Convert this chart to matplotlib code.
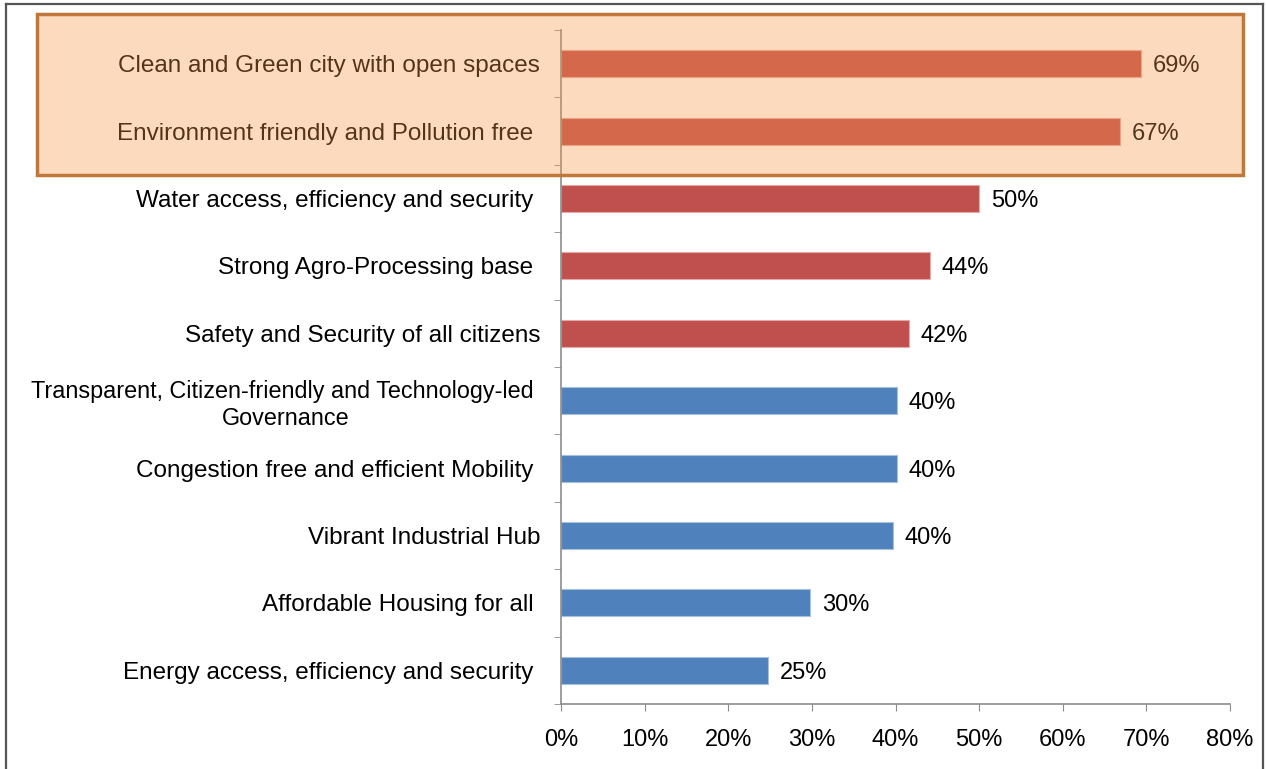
import matplotlib
matplotlib.use("Agg")
import matplotlib.pyplot as plt
from matplotlib.patches import Rectangle
from matplotlib.ticker import PercentFormatter
from matplotlib.lines import Line2D

plt.rcParams["font.family"] = ["Liberation Sans", "DejaVu Sans"]

# categories top -> bottom
labels = [
    "Clean and Green city with open spaces",
    "Environment friendly and Pollution free ",
    "Water access, efficiency and security ",
    "Strong Agro-Processing base ",
    "Safety and Security of all citizens",
    "Transparent, Citizen-friendly and Technology-led \nGovernance",
    "Congestion free and efficient Mobility ",
    "Vibrant Industrial Hub",
    "Affordable Housing for all ",
    "Energy access, efficiency and security ",
]
values = [69.4, 66.9, 50.0, 44.1, 41.6, 40.2, 40.2, 39.7, 29.8, 24.8]
shown = ["69%", "67%", "50%", "44%", "42%", "40%", "40%", "40%", "30%", "25%"]
colors = ["#C0504D"] * 5 + ["#4F81BD"] * 5
edges = ["#E6A9A7"] * 5 + ["#A7C0DE"] * 5

W, H = 1266, 769
fig = plt.figure(figsize=(W / 100, H / 100), dpi=100)
ax = fig.add_axes([561 / W, 65 / H, (1230 - 561) / W, (704 - 30) / H])

n = len(labels)
ypos = list(range(n - 1, -1, -1))
ax.barh(ypos, values, height=0.40, color=colors, edgecolor=edges, linewidth=0.8, zorder=2)
for y, v, s in zip(ypos, values, shown):
    ax.text(v + 1.4, y, s, va="center_baseline", ha="left", fontsize=17, color="black")

ax.set_xlim(0, 80)
ax.set_ylim(-0.5, n - 0.5)
ax.set_xticks(range(0, 81, 10))
ax.xaxis.set_major_formatter(PercentFormatter(decimals=0))
ax.set_yticks(ypos)
tls = ax.set_yticklabels(labels, fontsize=17.5, multialignment="center")
tls[5].set_fontsize(16.8)  # long two-line label a touch narrower
ax.set_yticks([i - 0.5 for i in range(n + 1)], minor=True)
ax.tick_params(axis="y", which="major", length=0, pad=15)
ax.tick_params(axis="y", which="minor", length=5, color="#8C8C8C", direction="out")
ax.tick_params(axis="x", length=5, color="#8C8C8C", direction="out", labelsize=17, pad=13)

for side in ["top", "right"]:
    ax.spines[side].set_visible(False)
for side in ["left", "bottom"]:
    ax.spines[side].set_color("#8C8C8C")
    ax.spines[side].set_linewidth(1.2)

# outer frame (no bottom edge)
fc = "#555555"
fig.add_artist(Line2D([6 / W, 6 / W], [0, 1 - 4 / H], transform=fig.transFigure, color=fc, lw=1.6))
fig.add_artist(Line2D([1263 / W, 1263 / W], [0, 1 - 4 / H], transform=fig.transFigure, color=fc, lw=1.6))
fig.add_artist(Line2D([6 / W, 1263 / W], [1 - 4 / H, 1 - 4 / H], transform=fig.transFigure, color=fc, lw=1.6))

# highlight box over top two items
fig.add_artist(Rectangle((37 / W, 1 - 175 / H), (1243 - 37) / W, (175 - 14) / H,
                         transform=fig.transFigure, facecolor="#F79646", alpha=0.35,
                         edgecolor="none", zorder=10))
fig.add_artist(Rectangle((37 / W, 1 - 175 / H), (1243 - 37) / W, (175 - 14) / H,
                         transform=fig.transFigure, facecolor="none",
                         edgecolor="#C0773A", linewidth=2.5, zorder=11))

fig.savefig("out.png", dpi=100)
